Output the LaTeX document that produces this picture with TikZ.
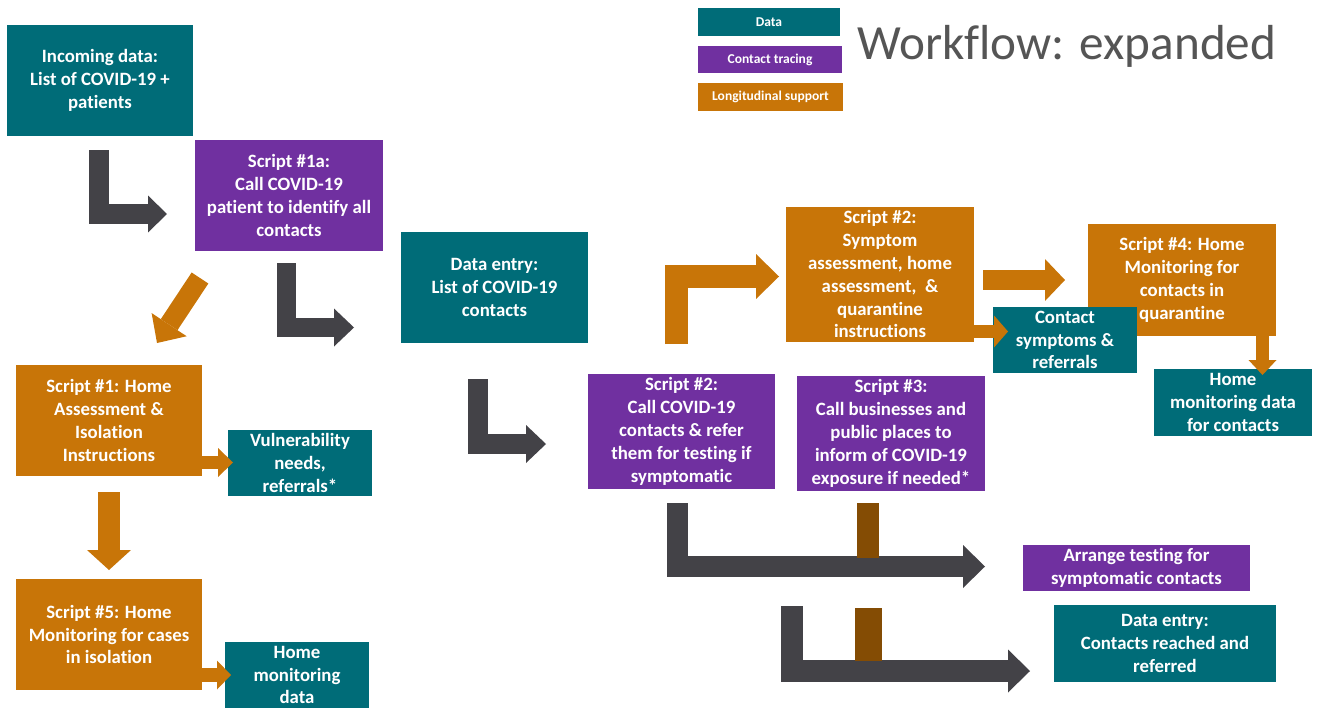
\documentclass[tikz,border=0pt]{standalone}
\usepackage{fontspec}
\setmainfont{Carlito}[Ligatures={NoCommon,NoContextual}]
\usetikzlibrary{arrows.meta}

\definecolor{dataC}{HTML}{006C78}
\definecolor{traceC}{HTML}{7030A0}
\definecolor{supportC}{HTML}{C87508}
\definecolor{flowgray}{HTML}{434247}
\definecolor{barbrown}{HTML}{844C04}
\definecolor{titleC}{HTML}{555555}

\begin{document}
\begin{tikzpicture}[x=0.02cm, y=-0.02cm,
  box/.style={rectangle, anchor=north west, inner sep=2pt, outer sep=0pt,
    text=white, align=center, font=\bfseries\fontsize{10.7}{13}\selectfont},
  legend/.style={box, font=\bfseries\fontsize{7.7}{9}\selectfont},
  wh/.style 2 args={minimum width=#1*0.02cm, minimum height=#2*0.02cm},
  fat/.style n args={4}{draw=#1, line width=#2, line cap=butt, line join=miter,
    -{Triangle[length=#3, width=#4, line width=0pt]}},
  grayarrow/.style n args={3}{fat={flowgray}{#1}{#2}{#3}},
  orangearrow/.style n args={3}{fat={supportC}{#1}{#2}{#3}}]

\useasboundingbox (0,0) rectangle (1325,710);

% legend and title
\node[legend, fill=dataC,    wh={142}{28}] (legData)  at (698,8)  {Data};
\node[legend, fill=traceC,   wh={144}{27}] (legTrace) at (698,46) {Contact tracing};
\node[legend, fill=supportC, wh={145}{28}] (legSupp)  at (698,83) {Longitudinal support};
\node[anchor=base west, inner sep=0pt, text=titleC,
  font=\fontsize{28}{30}\selectfont] (title) at (857,59) {Workflow: expanded};

% cases branch
\node[box, fill=dataC,    wh={186}{111}] (incoming) at (7,25)
  {Incoming data:\\List of COVID-19 +\\patients};
\node[box, fill=traceC,   wh={188}{111}] (s1a) at (195,140)
  {Script \#1a:\\Call COVID-19\\patient to identify all\\contacts};
\node[box, fill=dataC,    wh={187}{111}] (entry1) at (401,232)
  {Data entry:\\List of COVID-19\\contacts};
\node[box, fill=supportC, wh={186}{111}] (s1) at (16,365)
  {Script \#1: Home\\Assessment \&\\Isolation\\Instructions};
\node[box, fill=dataC,    wh={144}{66}] (vuln) at (228,430)
  {Vulnerability\\needs,\\referrals*};
\node[box, fill=supportC, wh={186}{111}] (s5) at (16,579)
  {Script \#5: Home\\Monitoring for cases\\in isolation};
\node[box, fill=dataC,    wh={144}{66}] (homedata) at (225,642)
  {Home\\monitoring\\data};

% contacts branch
\node[box, fill=traceC,   wh={187}{112}] (s2call) at (588,374)
  {Script \#2:\\Call COVID-19\\contacts \& refer\\them for testing if\\symptomatic};
\node[box, fill=traceC,   wh={188}{112}] (s3) at (797,376)
  {Script \#3:\\Call businesses and\\public places to\\inform of COVID-19\\exposure if needed*};
\node[box, fill=supportC, wh={188}{133}] (s2symp) at (786,207)
  {Script \#2:\\Symptom\\assessment, home\\assessment,~ \&\\quarantine\\instructions};
\node[box, fill=supportC, wh={188}{112}] (s4) at (1088,224)
  {Script \#4: Home\\Monitoring for\\contacts in\\quarantine};
\node[box, fill=dataC,    wh={144}{66}] (csymp) at (993,307)
  {Contact\\symptoms \&\\referrals};
\node[box, fill=dataC,    wh={158}{67}] (hmcontacts) at (1154,369)
  {Home\\monitoring data\\for contacts};
\node[box, fill=traceC,   wh={227}{45}] (testing) at (1023,545)
  {Arrange testing for\\symptomatic contacts};
\node[box, fill=dataC,    wh={222}{77}] (entry2) at (1054,605)
  {Data entry:\\Contacts reached and\\referred};

% connector end points
\coordinate (g1s) at (99,150);     \coordinate (g1e) at (167,214);
\coordinate (g2s) at (286.5,263);  \coordinate (g2e) at (354,327.5);
\coordinate (g3s) at (477.5,379);  \coordinate (g3e) at (546,444);
\coordinate (g4s) at (677,503);    \coordinate (g4e) at (985,566.5);
\coordinate (g5s) at (791.5,606);  \coordinate (g5e) at (1030,671);
\coordinate (o1s) at (200,278);    \coordinate (o1e) at (157,343);
\coordinate (o2s) at (187,462.5);  \coordinate (o2e) at (233,462.5);
\coordinate (o3s) at (109,492);    \coordinate (o3e) at (109,570);
\coordinate (o4s) at (185,675);    \coordinate (o4e) at (231,675);
\coordinate (o5s) at (676,344);    \coordinate (o5e) at (779,276.5);
\coordinate (o6s) at (983,280);    \coordinate (o6e) at (1065,280);
\coordinate (o7s) at (963,331.5);  \coordinate (o7e) at (1008,331.5);
\coordinate (o8s) at (1262.5,330); \coordinate (o8e) at (1262.5,375);

% data-flow elbows
\draw[grayarrow={0.4cm}{0.38cm}{0.74cm}]  (g1s) |- (g1e);
\draw[grayarrow={0.38cm}{0.4cm}{0.76cm}]  (g2s) |- (g2e);
\draw[grayarrow={0.4cm}{0.4cm}{0.76cm}]   (g3s) |- (g3e);
\draw[grayarrow={0.42cm}{0.44cm}{0.86cm}] (g4s) |- (g4e);
\draw[grayarrow={0.44cm}{0.44cm}{0.86cm}] (g5s) |- (g5e);

% feeders from Script #3
\fill[barbrown] (857,503) rectangle (879,558);
\fill[barbrown] (855,608) rectangle (882,661);

% support arrows
\draw[orangearrow={0.4cm}{0.44cm}{0.84cm}]  (o1s) -- (o1e);
\draw[orangearrow={0.26cm}{0.3cm}{0.58cm}]  (o2s) -- (o2e);
\draw[orangearrow={0.44cm}{0.4cm}{0.88cm}]  (o3s) -- (o3e);
\draw[orangearrow={0.28cm}{0.28cm}{0.58cm}] (o4s) -- (o4e);
\draw[orangearrow={0.46cm}{0.46cm}{0.9cm}]  (o5s) |- (o5e);
\draw[orangearrow={0.4cm}{0.4cm}{0.84cm}]   (o6s) -- (o6e);
\draw[orangearrow={0.26cm}{0.28cm}{0.64cm}] (o7s) -- (o7e);
\draw[orangearrow={0.26cm}{0.3cm}{0.56cm}]  (o8s) -- (o8e);
\end{tikzpicture}
\end{document}
